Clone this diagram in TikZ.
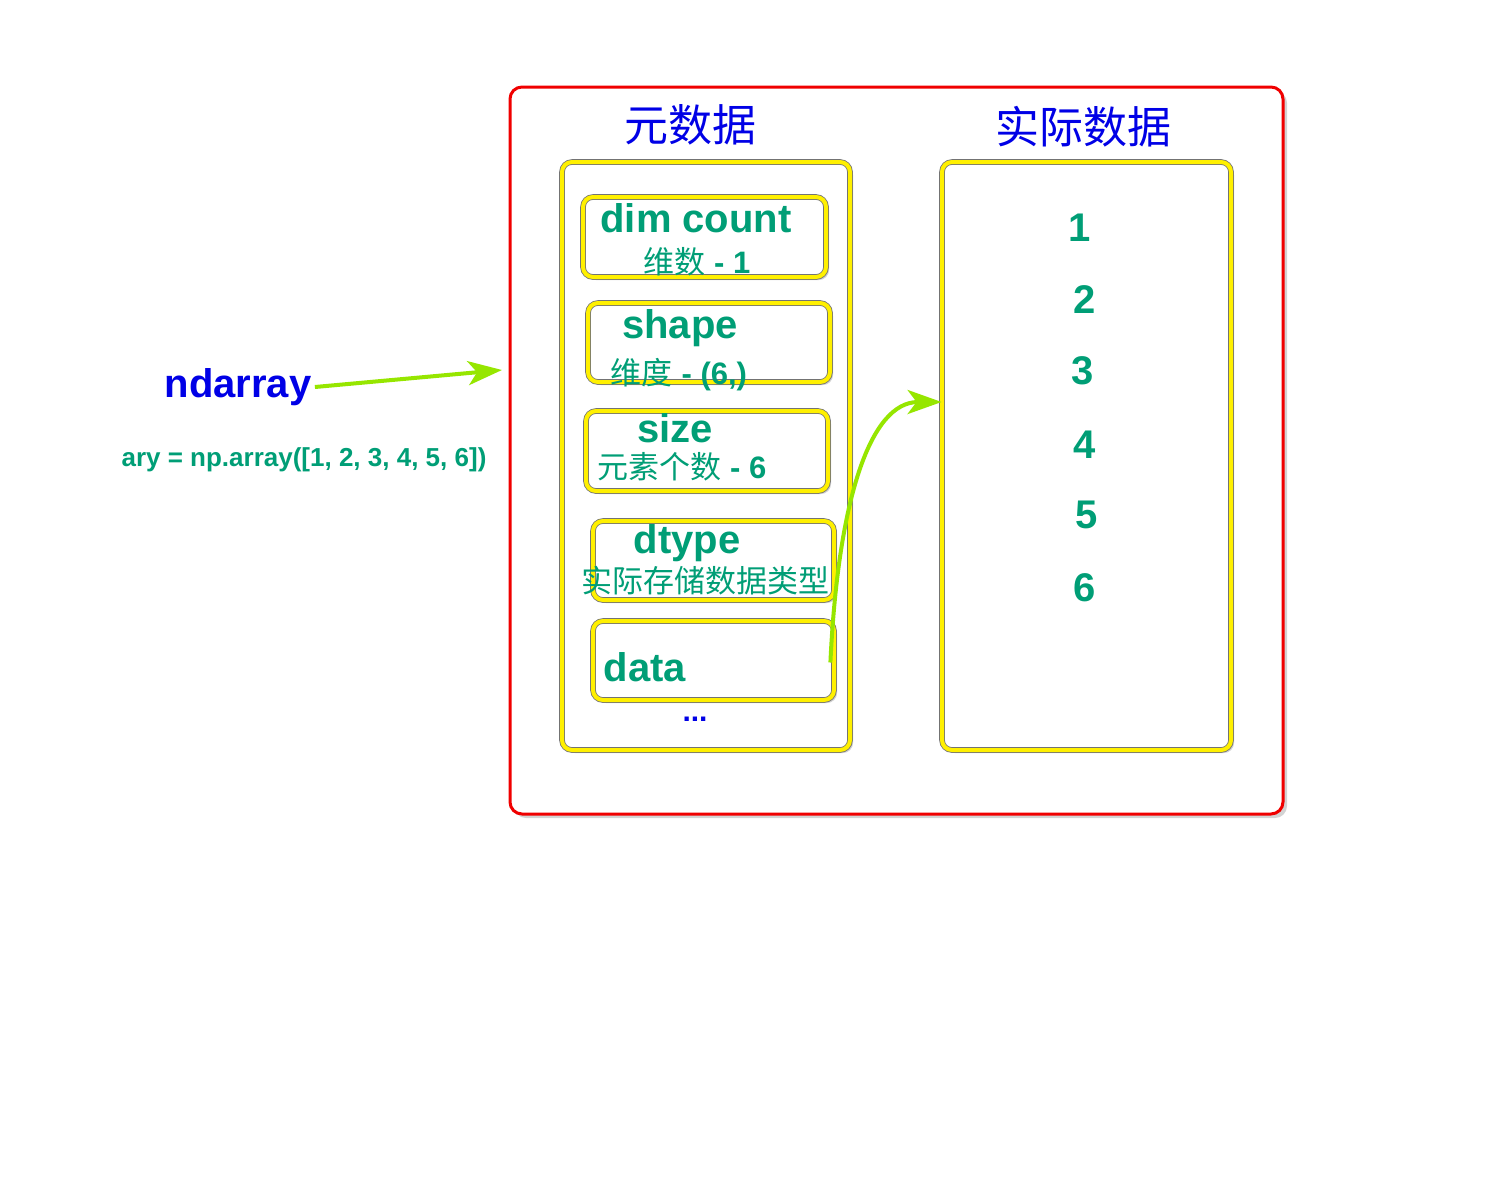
\documentclass[tikz,border=0pt]{standalone}
\usepackage{fontspec}
\setmainfont{Liberation Sans}
\newfontfamily\cjk{Noto Sans CJK SC}
\usetikzlibrary{arrows.meta,shadows}
\definecolor{nblue}{RGB}{0,0,230}
\definecolor{ngreen}{RGB}{0,158,118}
\definecolor{nlime}{RGB}{150,230,0}
\definecolor{nyellow}{RGB}{255,240,0}
\definecolor{nred}{RGB}{240,0,0}

\begin{document}
\begin{tikzpicture}[x=1pt,y=-1pt,
    redbox/.style={draw=nred,line width=3pt,rounded corners=12pt,fill=white,
      drop shadow={shadow xshift=4pt,shadow yshift=-4pt,opacity=.35}},
    ybox/.style={draw=black!55,double=nyellow,double distance=4pt,line width=.8pt,
      rounded corners=10pt,fill=white,
      drop shadow={shadow xshift=3pt,shadow yshift=-3pt,opacity=.35}},
    title/.style={text=nblue,font=\cjk\fontsize{44}{44}\selectfont},
    lbl/.style={text=ngreen,font=\bfseries\fontsize{40}{40}\selectfont},
    sub/.style={text=ngreen,font=\fontsize{31}{31}\selectfont},
    arr/.style={draw=nlime,line width=4pt,-{Stealth[length=34pt,width=24pt,inset=9pt,fill=nlime]}}]
  \useasboundingbox (0,0) rectangle (1500,1200);

  % boxes
  \node[redbox,minimum width=773,minimum height=727] (outer) at (896.5,450.5) {};
  \node[ybox,minimum width=288,minimum height=588] (meta) at (706,456) {};
  \node[ybox,minimum width=289,minimum height=588] (real) at (1086.5,456) {};
  \node[ybox,minimum width=243,minimum height=80] (dimbox) at (704.5,237) {};
  \node[ybox,minimum width=242,minimum height=79] (shapebox) at (709,342.5) {};
  \node[ybox,minimum width=242,minimum height=80] (sizebox) at (707,451) {};
  \node[ybox,minimum width=241,minimum height=79] (dtypebox) at (713.5,560.5) {};
  \node[ybox,minimum width=241,minimum height=79] (databox) at (713.5,660.5) {};

  % titles
  \node[title] (metatitle) at (690,125) {元数据};
  \node[title] (realtitle) at (1083,127) {实际数据};

  % left side
  \node[text=nblue,font=\bfseries\fontsize{40}{40}\selectfont] (nd) at (238,387) {ndarray};
  \node[text=ngreen,font=\bfseries\fontsize{26}{26}\selectfont] (ary) at (304,460) {ary = np.array([1, 2, 3, 4, 5, 6])};

  % meta data
  \node[lbl] (dim) at (696,218) {dim count};
  \node[sub] (dimsub) at (697,262) {{\cjk 维数} \textbf{- 1}};
  \node[lbl] (shape) at (680,328) {shape};
  \node[sub] (shapesub) at (679,375) {{\cjk 维度} \textbf{- (6,)}};
  \node[lbl] (size) at (675,428) {size};
  \node[sub] (sizesub) at (682,467) {{\cjk 元素个数} \textbf{- 6}};
  \node[lbl] (dtype) at (687,543) {dtype};
  \node[sub] (dtypesub) at (705,581) {{\cjk 实际存储数据类型}};
  \node[lbl] (data) at (645,667) {data};
  \node[text=nblue,font=\bfseries\fontsize{30}{30}\selectfont] (dots) at (695,719) {...};

  % real data
  \node[lbl] (n1) at (1080,228) {1};
  \node[lbl] (n2) at (1085,300) {2};
  \node[lbl] (n3) at (1083,371) {3};
  \node[lbl] (n4) at (1085,445) {4};
  \node[lbl] (n5) at (1087,515) {5};
  \node[lbl] (n6) at (1085,588) {6};

  % arrows
  \coordinate (ndtip) at (502,370);
  \draw[arr] (nd.east) -- (ndtip);
  \draw[arr] ([xshift=-4pt,yshift=-2pt]databox.east) .. controls (838,500) and (870,402) .. ([yshift=54pt]real.west);
\end{tikzpicture}
\end{document}
